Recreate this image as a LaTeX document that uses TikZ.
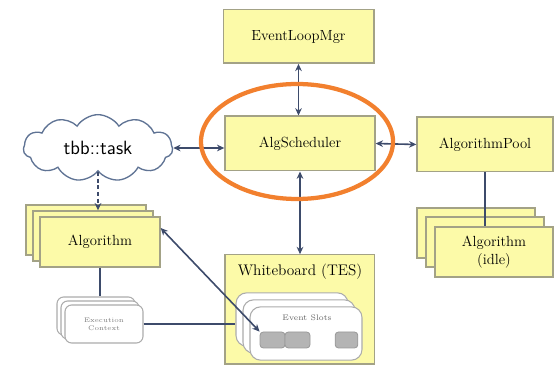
\documentclass[tikz,border=0pt]{standalone}
\usetikzlibrary{shapes.symbols,arrows.meta}

\definecolor{boxfill}{HTML}{FCFAA8}
\definecolor{boxline}{HTML}{A3A286}
\definecolor{linkcol}{HTML}{3D4B6B}
\definecolor{ringcol}{HTML}{F2802E}
\definecolor{cloudline}{HTML}{5F7394}
\definecolor{slotfill}{HTML}{B4B4B4}

\tikzset{every picture/.style={line width=0.75pt}}
\tikzset{
  ybox/.style={draw=boxline, fill=boxfill, line width=1pt, inner sep=0pt, align=center, font=\fontsize{11}{13}\selectfont},
  wbox/.style={draw=gray!65, fill=white, line width=0.8pt, rounded corners=5pt, inner sep=0pt, align=center},
  slotbox/.style={draw=gray!80, fill=slotfill, line width=0.6pt, rounded corners=2.5pt, minimum height=12pt},
  link/.style={draw=linkcol, line width=1.2pt, {Stealth[length=5.5pt,width=5pt]}-{Stealth[length=5.5pt,width=5pt]}},
  plain/.style={draw=linkcol, line width=1.2pt},
}

\begin{document}
\begin{tikzpicture}[x=0.75pt,y=0.75pt,yscale=-1,xscale=1]
\useasboundingbox (0,0) rectangle (557,366);

% Top box
\node[ybox, minimum width=113pt, minimum height=40pt] (elm) at (298.5,36.5) {EventLoopMgr};
% Scheduler
\node[ybox, minimum width=112.5pt, minimum height=41pt] (sched) at (300,143.5) {AlgScheduler};
% Pool
\node[ybox, minimum width=102pt, minimum height=41pt] (pool) at (485,144.5) {AlgorithmPool};
% Task cloud
\node[cloud, draw=cloudline, fill=white, line width=1pt, cloud puffs=11, cloud puff arc=115, aspect=2.3,
  minimum width=112pt, minimum height=50pt, inner sep=0pt, font=\sffamily\Large] (task) at (98,148) {tbb::task};

% Algorithm stack
\node[ybox, minimum width=90pt, minimum height=37.5pt] (algB2) at (86,230) {};
\node[ybox, minimum width=90pt, minimum height=37.5pt] (algB1) at (93,236) {};
\node[ybox, minimum width=90pt, minimum height=37.5pt] (alg) at (100,242) {Algorithm};

% Idle algorithm stack
\node[ybox, minimum width=88.5pt, minimum height=37.5pt] (idleB2) at (476,233) {};
\node[ybox, minimum width=88.5pt, minimum height=37.5pt] (idleB1) at (485,242) {};
\node[ybox, minimum width=88.5pt, minimum height=37.5pt] (idle) at (494,252) {Algorithm\\(idle)};

% Execution context stack
\node[wbox, minimum width=58.5pt, minimum height=28.5pt] (execB2) at (96,316) {};
\node[wbox, minimum width=58.5pt, minimum height=28.5pt] (execB1) at (100,320) {};
\node[wbox, minimum width=58.5pt, minimum height=28.5pt, text=gray, font=\fontsize{5}{6}\selectfont] (exec) at (104,324) {Execution\\Context};

% Whiteboard
\node[ybox, minimum width=112pt, minimum height=82pt] (wb) at (299.5,309.5) {};
\node[font=\fontsize{11.5}{13}\selectfont] (wbtitle) at (300,272) {Whiteboard (TES)};
\node[wbox, minimum width=84pt, minimum height=40pt, rounded corners=8pt] (evB2) at (292,319.5) {};
\node[wbox, minimum width=84pt, minimum height=40pt, rounded corners=8pt] (evB1) at (299,326.5) {};
\node[wbox, minimum width=84pt, minimum height=40pt, rounded corners=8pt] (ev) at (306,333.5) {};
\node[text=gray!80!black, font=\fontsize{6}{7}\selectfont] (evtitle) at (307,318) {Event Slots};
\node[slotbox, minimum width=18.75pt] (slot1) at (272.5,340) {};
\node[slotbox, minimum width=18.75pt] (slot2) at (297.5,340) {};
\node[slotbox, minimum width=17pt] (slot3) at (346.5,340) {};

% Connection
\draw[link] (elm.south) -- (elm.south |- sched.north);
% Connection
\draw[link] (sched.south) -- (sched.south |- wb.north);
% Connection
\draw[link] (task.east) -- (task.east -| sched.west);
% Connection
\draw[link] (sched.east) -- (pool.west);
% Connection
\draw[link] (alg.13) -- (slot1.north west);
% Connection
\draw[plain, densely dashed, -{Stealth[length=5.5pt,width=5pt]}] (task.south) -- (task.south |- algB1.north);
% Connection
\draw[plain] (alg.south) -- (alg.south |- execB2.north);
% Connection
\draw[plain] (exec.east) -- (exec.east -| evB2.west);
% Connection
\draw[plain] (pool.south) -- (pool.south |- idle.north);

% Highlight ring
\draw[ringcol, line width=3.2pt] (297,141.5) circle [x radius=96, y radius=57.5];

\end{tikzpicture}
\end{document}
